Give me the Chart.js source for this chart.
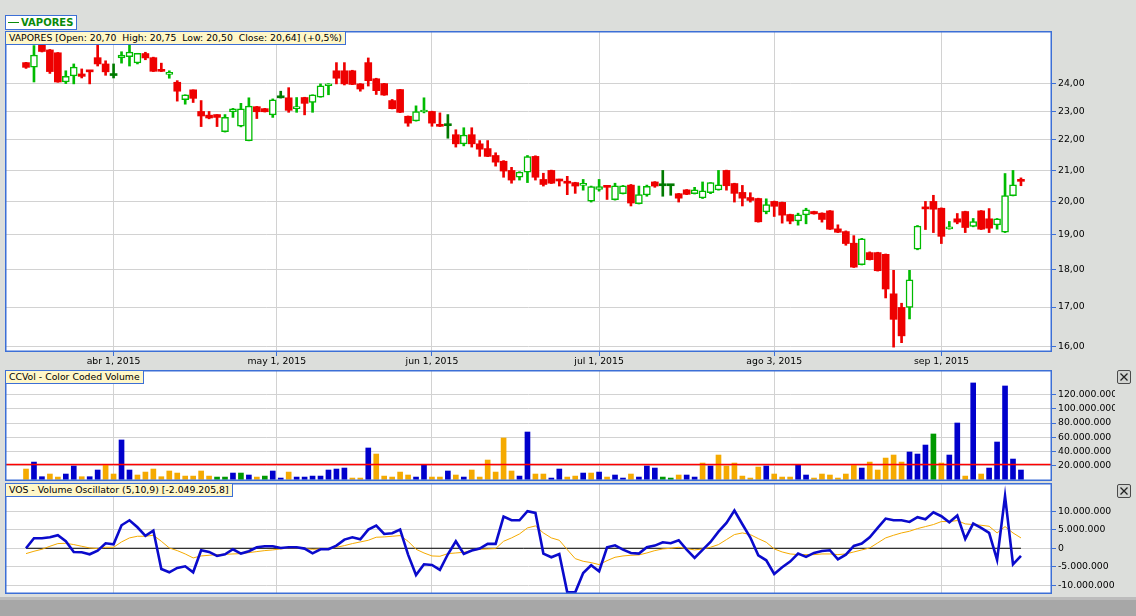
<!DOCTYPE html>
<html>
<head>
<meta charset="utf-8">
<script src="https://cdn.jsdelivr.net/npm/chart.js@4.4.1/dist/chart.umd.min.js"></script>
<style>
  html, body { margin: 0; padding: 0; }
  body { width: 1136px; height: 616px; background: #dcdedb; position: relative; overflow: hidden;
         font-family: "DejaVu Sans", sans-serif; }
  canvas { position: absolute; }
  .caption { position: absolute; z-index: 2; background: #fff7c8; border: 1px solid #3c6fd6;
             font-size: 9.3px; line-height: 12px; height: 12px; padding: 0 3px 0 3px; white-space: pre; color: #000; }
  .key { position: absolute; z-index: 2; background: #fff; border: 1px solid #3c6fd6; height: 13px;
         font-size: 10px; font-weight: bold; line-height: 13px; color: #0a8a0a; padding: 0 3px 0 2px; white-space: pre; }
  .key .dash { display: inline-block; width: 11px; height: 0; border-top: 1.5px solid #0a8a0a;
               vertical-align: middle; margin-right: 2px; position: relative; top: -1px; }
  .closer { position: absolute; z-index: 2; left: 1117px; width: 12px; height: 12px; border: 1px solid #4a4a4a;
            border-radius: 2px; background: #d3d5d2; }
  .closer svg { display: block; }
  #bandTop { position: absolute; left: 0; top: 597px; width: 1136px; height: 3px; background: #bcbcbc; }
  #band { position: absolute; left: 0; top: 600px; width: 1136px; height: 16px; background: #a7a7a7; }
</style>
</head>
<body>
<canvas id="priceChart" width="1110" height="339" style="left:5px;top:31px"></canvas>
<canvas id="volumeChart" width="1110" height="111" style="left:5px;top:370px"></canvas>
<canvas id="vosChart" width="1110" height="111" style="left:5px;top:483px"></canvas>

<div class="key" style="left:5px;top:15px"><span class="dash"></span>VAPORES</div>
<div class="caption" style="left:5px;top:31px">VAPORES [Open: 20,70  High: 20,75  Low: 20,50  Close: 20,64] (+0,5%)</div>
<div class="caption" style="left:5px;top:370px">CCVol - Color Coded Volume</div>
<div class="caption" style="left:5px;top:483px">VOS - Volume Oscillator (5,10,9) [-2.049.205,8]</div>
<div class="closer" style="top:370px"><svg width="12" height="12"><path d="M2.5 2.5 L9.5 9.5 M9.5 2.5 L2.5 9.5" stroke="#222" stroke-width="1.3"/></svg></div>
<div class="closer" style="top:484px"><svg width="12" height="12"><path d="M2.5 2.5 L9.5 9.5 M9.5 2.5 L2.5 9.5" stroke="#222" stroke-width="1.3"/></svg></div>
<div id="bandTop"></div>
<div id="band"></div>

<script>
// sesiones bursatiles (indice 0 = 17 mar 2015 ... 125 = 14 sep 2015)
const opens = [24.79,24.62,25.46,25.28,25.17,24.06,24.29,24.36,24.47,24.98,
  24.74,24.30,24.97,25.02,24.78,25.14,24.98,24.48,24.34,24.05,
  23.41,23.77,22.99,22.86,22.88,22.28,22.98,22.47,21.98,23.16,
  23.09,22.87,23.48,23.48,23.09,23.49,23.31,23.50,23.92,24.48,
  24.48,24.48,23.99,24.79,24.18,24.00,23.38,23.78,22.82,22.66,
  22.97,22.99,22.53,22.49,22.18,21.87,22.18,21.87,21.71,21.48,
  21.29,20.99,20.77,20.93,21.45,20.70,20.99,20.70,20.61,20.60,
  20.51,20.02,20.38,20.50,20.06,20.25,20.52,19.94,20.21,20.62,
  20.50,20.50,20.25,20.37,20.25,20.12,20.28,20.37,20.99,20.57,
  20.29,20.13,20.10,19.69,20.01,19.98,19.61,19.42,19.60,19.70,
  19.65,19.72,19.18,19.10,18.76,18.15,18.49,18.49,18.44,17.35,
  16.99,16.99,18.59,19.80,20.01,19.80,19.18,19.48,19.70,19.25,
  19.72,19.48,19.30,19.08,20.19,20.70];
const highs = [24.80,25.45,25.50,25.30,25.18,24.48,24.74,24.55,24.48,25.46,
  24.86,24.74,25.21,25.46,25.15,25.19,25.00,24.77,24.48,24.11,
  23.59,23.77,23.38,22.99,22.88,22.88,23.10,23.28,23.48,23.17,
  23.10,23.44,23.72,23.85,23.49,23.50,23.59,23.99,24.00,24.79,
  24.79,24.50,24.00,24.97,24.20,24.01,23.42,23.79,22.83,23.19,
  23.48,23.00,22.94,22.88,22.35,22.42,22.42,21.98,21.98,21.57,
  21.31,21.09,20.95,21.48,21.47,20.90,21.00,20.71,20.80,20.61,
  20.70,20.49,20.70,20.51,20.58,20.51,20.54,20.49,20.52,20.63,
  20.99,20.51,20.26,20.38,20.45,20.62,20.60,20.99,21.00,20.58,
  20.51,20.28,20.11,20.09,20.02,19.99,19.62,19.65,19.80,19.71,
  19.66,19.73,19.30,19.12,18.98,18.90,18.51,18.50,18.45,17.99,
  17.10,17.99,19.28,20.01,20.20,19.81,19.40,19.64,19.71,19.49,
  19.73,19.79,19.49,20.89,20.99,20.75];
const lows = [24.57,24.06,25.20,24.38,24.05,24.00,23.99,24.21,23.99,24.66,
  24.31,24.21,24.77,24.66,24.74,24.90,24.45,24.45,24.20,23.36,
  23.25,23.31,22.46,22.73,22.46,22.27,22.78,22.45,21.97,22.74,
  22.97,22.78,23.47,22.96,22.96,22.87,22.96,23.50,23.59,23.99,
  23.95,23.96,23.72,23.91,23.60,23.57,23.08,22.95,22.47,22.65,
  22.94,22.47,22.46,22.06,21.76,21.80,21.76,21.45,21.44,21.13,
  20.77,20.58,20.68,20.60,20.68,20.49,20.57,20.49,20.22,20.26,
  20.36,19.99,20.33,20.07,20.05,20.24,19.87,19.93,20.17,20.45,
  20.17,20.20,19.99,20.22,20.24,20.10,20.25,20.36,20.36,19.99,
  19.87,19.99,19.38,19.63,19.55,19.35,19.33,19.29,19.33,19.62,
  19.38,19.16,19.07,18.70,18.07,18.14,18.28,17.97,17.24,15.98,
  16.09,16.69,18.57,19.16,19.07,18.75,19.17,19.33,19.07,19.24,
  19.16,19.07,19.17,19.07,20.18,20.50];
const closes = [24.61,25.08,25.22,24.45,24.06,24.27,24.62,24.27,24.44,24.74,
  24.44,24.30,25.08,25.20,25.15,24.97,24.46,24.46,24.42,23.72,
  23.59,23.46,22.83,22.76,22.78,22.78,23.08,23.08,23.18,22.98,
  22.98,23.41,23.48,23.03,23.10,23.28,23.59,23.92,23.99,24.20,
  23.99,23.97,23.80,24.11,23.74,23.58,23.09,22.96,22.58,22.99,
  22.99,22.58,22.47,22.49,21.87,22.17,21.87,21.69,21.45,21.26,
  20.97,20.68,20.94,21.44,20.77,20.54,20.58,20.65,20.58,20.49,
  20.53,20.47,20.47,20.45,20.50,20.50,19.96,20.22,20.48,20.49,
  20.50,20.50,20.11,20.23,20.37,20.34,20.60,20.53,20.50,20.26,
  20.11,20.04,19.39,19.91,19.86,19.59,19.41,19.60,19.75,19.63,
  19.46,19.17,19.08,18.75,18.08,18.89,18.29,17.98,17.48,16.68,
  16.26,17.73,19.26,19.78,19.77,18.96,19.21,19.38,19.22,19.40,
  19.17,19.20,19.48,20.19,20.53,20.64];

// volumen en millones de acciones y su clase de color (B azul, O naranja, G verde)
const volumes = [14.7,24.6,3.8,7.6,3.3,7.6,19.0,3.8,3.8,13.3,
  20.9,7.6,56.0,13.3,6.2,10.4,14.7,3.8,11.9,9.0,
  4.7,4.7,11.9,4.7,3.3,3.3,9.0,9.0,6.2,3.3,
  4.7,11.9,1.9,10.4,3.3,3.3,4.7,4.7,13.3,14.7,
  16.1,1.9,1.9,44.6,36.0,4.7,3.3,10.4,6.2,3.3,
  20.9,3.3,3.3,11.9,6.2,3.3,13.3,3.3,27.5,10.4,
  58.8,11.9,4.7,67.3,7.6,7.6,1.9,14.7,3.3,4.7,
  9.0,9.0,10.4,3.3,6.2,1.9,7.6,3.3,19.0,16.1,
  3.3,1.9,6.2,6.2,3.3,23.2,19.0,34.6,19.0,23.2,
  4.7,1.9,17.5,19.0,7.6,3.3,3.3,20.9,6.2,1.9,
  7.6,6.2,1.9,7.6,20.9,16.1,24.6,13.3,30.3,34.6,
  24.6,38.9,36.0,48.8,64.5,23.2,34.6,80.1,4.7,137.0,
  7.6,16.1,53.1,132.7,28.9,13.3];
const volumeClass = ['O','B','B','O','O','B','B','O','B','B',
  'O','O','B','B','O','O','O','O','O','O',
  'O','O','O','O','G','G','B','G','B','O',
  'G','B','B','O','B','B','B','B','B','B',
  'B','O','O','B','O','O','O','O','O','B',
  'B','O','O','B','O','B','O','O','O','O',
  'O','O','B','B','O','O','B','B','O','O',
  'B','O','B','O','B','B','O','B','B','B',
  'G','G','O','B','B','O','B','O','O','O',
  'O','O','O','B','O','O','O','B','B','O',
  'O','O','O','O','O','B','O','O','O','O',
  'O','B','B','B','G','O','B','B','O','B',
  'O','B','B','B','B','B'];
const averageVolume = 21;

// oscilador de volumen (millones) y su senal
const vosLine = [0,2.71,2.71,2.99,3.53,1.90,-1.00,-1.09,-1.63,-0.63,
  1.36,1.09,6.24,7.60,5.70,3.35,4.80,-5.61,-6.52,-5.34,
  -4.89,-6.52,-0.54,-1.00,-2.08,-1.63,-0.27,-1.45,-0.81,0.27,
  0.54,0.54,0.09,0.27,0.27,-0.09,-1.36,-0.27,-0.27,0.72,
  2.35,2.99,2.44,5.07,6.15,3.89,4.07,5.07,-1.72,-7.24,
  -4.34,-4.52,-5.88,-1.63,1.90,-1.54,-0.63,-0.09,1.18,1.18,
  8.60,7.60,7.60,10.05,9.59,-1.45,-2.44,-1.54,-11.95,-11.95,
  -6.70,-4.62,-6.24,0.27,0.81,-0.36,-1.27,-1.45,0.27,0.72,
  1.63,1.36,2.17,-0.36,-2.62,-0.45,1.72,4.52,6.88,10.23,
  6.52,2.90,-1.90,-3.26,-6.97,-5.16,-3.62,-1.45,-2.35,-1.27,
  -0.72,-0.54,-2.99,-1.72,0.63,1.27,2.99,5.52,8.05,7.60,
  7.60,7.15,8.42,7.87,9.77,8.69,7.06,8.87,2.53,6.70,
  5.52,4.16,-3.17,14.12,-4.34,-2.05];
const vosSignal = [-1.45,-0.81,-0.27,0.54,1.27,1.36,1.00,0.54,0.09,-0.09,
  0.27,0.27,1.72,2.81,3.26,3.26,3.53,1.90,0.09,-0.63,
  -1.54,-2.62,-2.08,-1.90,-1.72,-1.63,-1.54,-1.45,-1.18,-0.90,
  -0.63,-0.45,-0.18,0.09,0.09,-0.09,-0.27,-0.18,-0.09,0.27,
  0.72,1.27,1.72,2.17,2.99,3.08,3.26,3.44,1.90,-0.27,
  -1.27,-2.08,-2.17,-1.45,-1.27,-1.09,-0.63,-0.27,-0.18,-0.09,
  1.90,2.81,3.89,5.52,6.06,4.16,2.81,2.17,-0.36,-2.81,
  -3.53,-3.89,-4.43,-3.35,-2.44,-2.08,-1.90,-1.81,-1.27,-0.63,
  -0.18,0,0.27,-0.09,-0.45,-0.18,0.27,1.00,2.35,3.71,
  4.16,3.71,2.62,1.63,-0.18,-1.00,-1.54,-1.72,-1.72,-1.72,
  -1.54,-1.54,-1.72,-1.54,-1.00,-0.45,0.09,1.45,2.81,3.53,
  4.16,4.62,5.34,5.88,6.43,7.24,7.24,7.51,6.61,6.43,
  6.24,5.97,4.16,5.88,4.16,2.81];

// marcas del eje de fechas (posicion en sesiones) y ejes de valores
const monthTickSessions = [11, 31.5, 51, 72, 94, 115];
const monthTickLabels = ['abr 1, 2015', 'may 1, 2015', 'jun 1, 2015', 'jul 1, 2015', 'ago 3, 2015', 'sep 1, 2015'];
const priceTicks = [16, 17, 18, 19, 20, 21, 22, 23, 24];
const volumeTicks = [20, 40, 60, 80, 100, 120];
const vosTicks = [-10, -5, 0, 5, 10];

const X_MIN = -2.64, X_MAX = 128.9;
const PLOT_W = 1047;
const CANVAS_W = 1110;
const GRID = '#d2d2d2';
const FRAME = '#3c6fd6';

Chart.defaults.font.family = '"DejaVu Sans", sans-serif';
Chart.defaults.font.size = 9.3;
Chart.defaults.color = '#000';
Chart.defaults.animation = false;
Chart.defaults.plugins.legend.display = false;
Chart.defaults.plugins.tooltip.enabled = false;

function millions(v) {
  const n = Math.round(v * 1e6);
  const s = Math.abs(n).toString().replace(/\B(?=(\d{3})+(?!\d))/g, '.');
  return (n < 0 ? '-' : '') + s;
}

// fondo blanco y marco azul del panel
const panelFrame = {
  id: 'panelFrame',
  beforeDraw(chart) {
    const a = chart.chartArea, ctx = chart.ctx;
    ctx.save();
    ctx.fillStyle = '#ffffff';
    ctx.fillRect(a.left, a.top, a.right - a.left, a.bottom - a.top);
    ctx.restore();
  },
  afterDraw(chart) {
    const a = chart.chartArea, ctx = chart.ctx;
    ctx.save();
    ctx.strokeStyle = FRAME;
    ctx.lineWidth = 1.5;
    ctx.strokeRect(a.left + 0.75, a.top + 0.75, a.right - a.left - 1.5, a.bottom - a.top - 1.5);
    ctx.restore();
  }
};

// linea roja del volumen promedio
const averageLine = {
  id: 'averageLine',
  afterDatasetsDraw(chart) {
    const a = chart.chartArea, ctx = chart.ctx;
    const py = chart.scales.y.getPixelForValue(averageVolume);
    ctx.save();
    ctx.strokeStyle = '#ff0000';
    ctx.lineWidth = 1.5;
    ctx.beginPath();
    ctx.moveTo(a.left, py);
    ctx.lineTo(a.right, py);
    ctx.stroke();
    ctx.restore();
  }
};

function sessionAxis(showLabels) {
  return {
    type: 'linear', min: X_MIN, max: X_MAX, offset: false,
    afterBuildTicks: s => { s.ticks = monthTickSessions.map(v => ({ value: v })); },
    afterFit: s => { s.height = showLabels ? 18 : 0; s.paddingLeft = 0; s.paddingRight = 0; },
    grid: { offset: false, color: GRID, lineWidth: 1, drawTicks: showLabels, tickLength: 4, tickColor: FRAME },
    border: { display: false },
    ticks: { display: showLabels, autoSkip: false, maxRotation: 0, padding: 0,
             callback: (v, i) => monthTickLabels[i] }
  };
}

function valueAxis(type, min, max, tickValues, fmt) {
  return {
    type, position: 'right', min, max,
    afterBuildTicks: s => { s.ticks = tickValues.map(v => ({ value: v })); },
    afterFit: s => { s.width = CANVAS_W - PLOT_W; s.paddingTop = 0; s.paddingBottom = 0; },
    grid: { color: GRID, lineWidth: 1, tickLength: 4, tickColor: FRAME },
    border: { display: false },
    ticks: { padding: 2, autoSkip: false, callback: v => fmt(v) }
  };
}

const baseOptions = { responsive: false, maintainAspectRatio: false, layout: { padding: 0 } };

// ---- velas ----
const idx = opens.map((_, i) => i);
const dir = idx.map(i => closes[i] > opens[i] ? 'up' : (closes[i] < opens[i] ? 'down' : 'flat'));
const candleFill = { up: '#ffffff', down: '#ee0000', flat: '#007a00' };
const candleLine = { up: '#00bb00', down: '#ee0000', flat: '#007a00' };

new Chart(document.getElementById('priceChart'), {
  type: 'bar',
  data: {
    datasets: [
      {
        label: 'cuerpo',
        data: idx.map(i => ({ x: i, y: [opens[i], closes[i]] })),
        backgroundColor: dir.map(d => candleFill[d]),
        borderColor: dir.map(d => candleLine[d]),
        borderWidth: dir.map(d => d === 'up' ? 1.5 : 0),
        borderSkipped: false,
        barThickness: 7,
        minBarLength: 2,
        grouped: false,
        order: 0
      },
      {
        label: 'mecha',
        data: idx.map(i => ({ x: i, y: [lows[i], highs[i]] })),
        backgroundColor: dir.map(d => candleLine[d]),
        borderWidth: 0,
        barThickness: 2,
        grouped: false,
        order: 1
      }
    ]
  },
  options: {
    ...baseOptions,
    scales: {
      x: sessionAxis(true),
      y: valueAxis('logarithmic', 15.86, 26.03, priceTicks, v => v.toFixed(2).replace('.', ','))
    }
  },
  plugins: [panelFrame]
});

// ---- volumen ----
const volColor = { B: '#0000cc', O: '#f5aa00', G: '#009900' };
new Chart(document.getElementById('volumeChart'), {
  type: 'bar',
  data: {
    datasets: [{
      label: 'CCVol',
      data: idx.map(i => ({ x: i, y: volumes[i] })),
      backgroundColor: volumeClass.map(c => volColor[c]),
      barThickness: 5,
      borderWidth: 0
    }]
  },
  options: {
    ...baseOptions,
    scales: {
      x: sessionAxis(false),
      y: valueAxis('linear', -2.3, 155.4, volumeTicks, millions)
    }
  },
  plugins: [panelFrame, averageLine]
});

// ---- oscilador ----
new Chart(document.getElementById('vosChart'), {
  type: 'line',
  data: {
    datasets: [
      {
        label: 'VOS',
        data: idx.map(i => ({ x: i, y: vosLine[i] })),
        borderColor: '#0a0acc',
        borderWidth: 2.6,
        pointRadius: 0,
        tension: 0,
        order: 0
      },
      {
        label: 'senal',
        data: idx.map(i => ({ x: i, y: vosSignal[i] })),
        borderColor: '#f5aa00',
        borderWidth: 1,
        pointRadius: 0,
        tension: 0,
        order: 1
      },
      {
        label: 'cero',
        data: [{ x: idx[0], y: 0 }, { x: idx[idx.length - 1], y: 0 }],
        borderColor: '#000000',
        borderWidth: 1,
        pointRadius: 0,
        order: 2
      }
    ]
  },
  options: {
    ...baseOptions,
    scales: {
      x: sessionAxis(false),
      y: valueAxis('linear', -12.4, 17.7, vosTicks, millions)
    }
  },
  plugins: [panelFrame]
});
</script>
</body>
</html>
